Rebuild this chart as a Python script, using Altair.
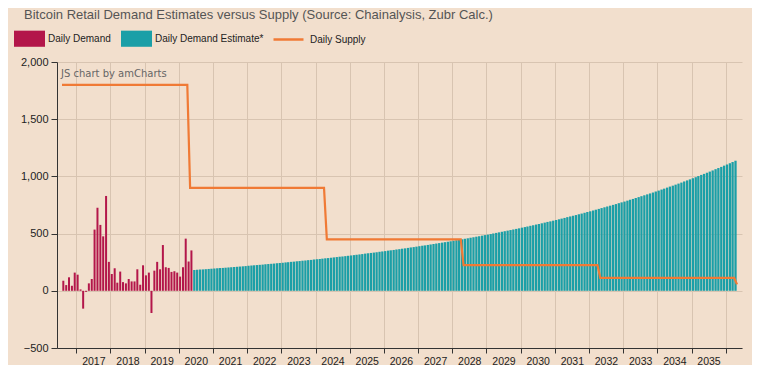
import altair as alt
import pandas as pd

# ---------------- data ----------------
title_text = "Bitcoin Retail Demand Estimates versus Supply (Source: Chainalysis, Zubr Calc.)"
watermark_text = "JS chart by amCharts"

actual_label = "Daily Demand"
estimate_label = "Daily Demand Estimate*"
supply_label = "Daily Supply"

# monthly, Aug 2016 .. May 2020
actual_start = "2016-08-01"
actual_demand = [88, 50, 118, 44, 159, 141, 12, -156, -9, 65,
                 103, 535, 726, 576, 476, 829, 253, 147, 197, 71,
                 168, 76, 65, 103, 82, 82, 188, 53, 223, 135,
                 159, -194, 176, 253, 188, 400, 206, 200, 165, 171,
                 159, 124, 206, 456, 256, 353]

# monthly, Jun 2020 .. Apr 2036
estimate_start = "2020-06-01"
estimate_demand = [
    182, 184, 186, 187, 189, 191, 193, 195, 197, 199, 200, 202,
    204, 206, 208, 210, 212, 214, 216, 219, 221, 223, 225, 227,
    229, 232, 234, 236, 238, 241, 243, 245, 248, 250, 253, 255,
    258, 260, 263, 265, 268, 270, 273, 276, 278, 281, 284, 286,
    289, 292, 295, 298, 300, 303, 306, 309, 312, 315, 318, 321,
    325, 328, 331, 334, 337, 341, 344, 347, 351, 354, 357, 361,
    364, 368, 371, 375, 379, 382, 386, 390, 394, 397, 401, 405,
    409, 413, 417, 421, 425, 429, 433, 438, 442, 446, 450, 455,
    459, 464, 468, 473, 477, 482, 487, 491, 496, 501, 506, 511,
    516, 521, 526, 531, 536, 541, 546, 552, 557, 562, 568, 573,
    579, 584, 590, 596, 602, 607, 613, 619, 625, 631, 637, 644,
    650, 656, 662, 669, 675, 682, 689, 695, 702, 709, 716, 723,
    730, 737, 744, 751, 758, 766, 773, 780, 788, 796, 803, 811,
    819, 827, 835, 843, 851, 859, 868, 876, 885, 893, 902, 911,
    919, 928, 937, 946, 956, 965, 974, 984, 993, 1003, 1013, 1022,
    1032, 1042, 1052, 1063, 1073, 1083, 1094, 1104, 1115, 1126, 1137,
]

supply_dates = ["2016-08-01", "2020-04-01", "2020-05-01", "2024-04-01",
                "2024-05-01", "2028-04-01", "2028-05-01", "2032-04-01",
                "2032-05-01", "2036-04-01", "2036-05-01"]
supply_values = [1800, 1800, 900, 900, 450, 450, 225, 225, 112.5, 112.5, 56.25]

year_ticks = list(range(2017, 2037))
y_ticks = [-500, 0, 500, 1000, 1500, 2000]

# ---------------- styles ----------------
BG = "#f2dfcd"
RED = "#b3164a"
TEAL = "#1b9fa7"
ORANGE = "#f07a35"
GRID = "#d8c4b1"
AXIS = "#333333"
FONT = "Liberation Sans"


def mid_months(start, n):
    return [(d + pd.Timedelta(days=14)).strftime("%Y-%m-%d")
            for d in pd.date_range(start, periods=n, freq="MS")]


actual_df = pd.DataFrame({
    "date": mid_months(actual_start, len(actual_demand)),
    "value": actual_demand,
    "series": actual_label,
})
estimate_df = pd.DataFrame({
    "date": mid_months(estimate_start, len(estimate_demand)),
    "value": estimate_demand,
    "series": estimate_label,
})
supply_df = pd.DataFrame({
    "date": supply_dates,
    "value": supply_values,
    "series": supply_label,
})

x_enc = alt.X(
    "date:T",
    scale=alt.Scale(
        type="utc",
        domain=[alt.DateTime(year=2016, month=8, date=1, utc=True),
                alt.DateTime(year=2036, month=5, date=1, utc=True)],
    ),
    axis=alt.Axis(
        values=[alt.DateTime(year=y, month=1, date=1, utc=True) for y in year_ticks],
        format="%Y", formatType="utc",
        labelExpr="datum.label == '2036' ? '' : datum.label",
        labelOffset=17, labelPadding=3, tickSize=5,
        labelOverlap=False, labelBound=False, labelFlush=False,
        grid=True, gridColor=GRID, gridWidth=1,
        domainColor=AXIS, tickColor=AXIS,
        labelFont=FONT, labelFontSize=10.5, labelColor="#222",
        title=None,
    ),
)
y_enc = alt.Y(
    "value:Q",
    scale=alt.Scale(domain=[-500, 2000], nice=False, zero=False),
    axis=alt.Axis(
        values=y_ticks, format=",d", tickSize=6, labelPadding=3,
        grid=True, gridColor=GRID, gridWidth=1,
        domainColor=AXIS, tickColor=AXIS,
        labelFont=FONT, labelFontSize=11, labelColor="#222",
        title=None,
    ),
)
color_enc = alt.Color(
    "series:N",
    scale=alt.Scale(domain=[actual_label, estimate_label], range=[RED, TEAL]),
    legend=alt.Legend(
        orient="none", legendX=-43, legendY=-39, direction="horizontal",
        title=None, symbolType="M-1,-0.52H1V0.52H-1Z", symbolSize=961,
        symbolStrokeWidth=0, symbolOpacity=1,
        labelFont=FONT, labelFontSize=10, labelColor="#222",
        labelOffset=3, columnPadding=10, padding=0,
    ),
)
stroke_enc = alt.Stroke(
    "series:N",
    scale=alt.Scale(domain=[supply_label], range=[ORANGE]),
    legend=alt.Legend(
        orient="none", legendX=215, legendY=-39, direction="horizontal",
        title=None, symbolType="stroke", symbolSize=900,
        symbolStrokeWidth=2.5,
        labelFont=FONT, labelFontSize=10, labelColor="#222",
        labelOffset=5, padding=0,
    ),
)

actual_bars = alt.Chart(actual_df).mark_bar(size=2.0).encode(
    x=x_enc, y=y_enc, color=color_enc)
estimate_bars = alt.Chart(estimate_df).mark_bar(size=2.3).encode(
    x=x_enc, y=y_enc, color=color_enc)
supply_line = alt.Chart(supply_df).mark_line(strokeWidth=2.2).encode(
    x=x_enc, y=y_enc, stroke=stroke_enc)

dummy = alt.Data(values=[{}])
title_mark = alt.Chart(dummy).mark_text(
    align="left", baseline="alphabetic", font=FONT, fontSize=13, color="#555"
).encode(x=alt.value(-33), y=alt.value(-43), text=alt.value(title_text))
watermark = alt.Chart(dummy).mark_text(
    align="left", baseline="middle", font="DejaVu Sans", fontSize=10, color="#666"
).encode(x=alt.value(4), y=alt.value(12), text=alt.value(watermark_text))

chart = alt.layer(
    actual_bars, estimate_bars, supply_line, title_mark, watermark
).properties(
    width=685, height=286,
    autosize=alt.AutoSizeParams(type="none"),
    padding={"left": 49, "top": 54, "right": 10, "bottom": 17},
    background=BG,
).configure_view(stroke=None)

chart.save("out.html", embed_options={"renderer": "svg", "actions": False})
